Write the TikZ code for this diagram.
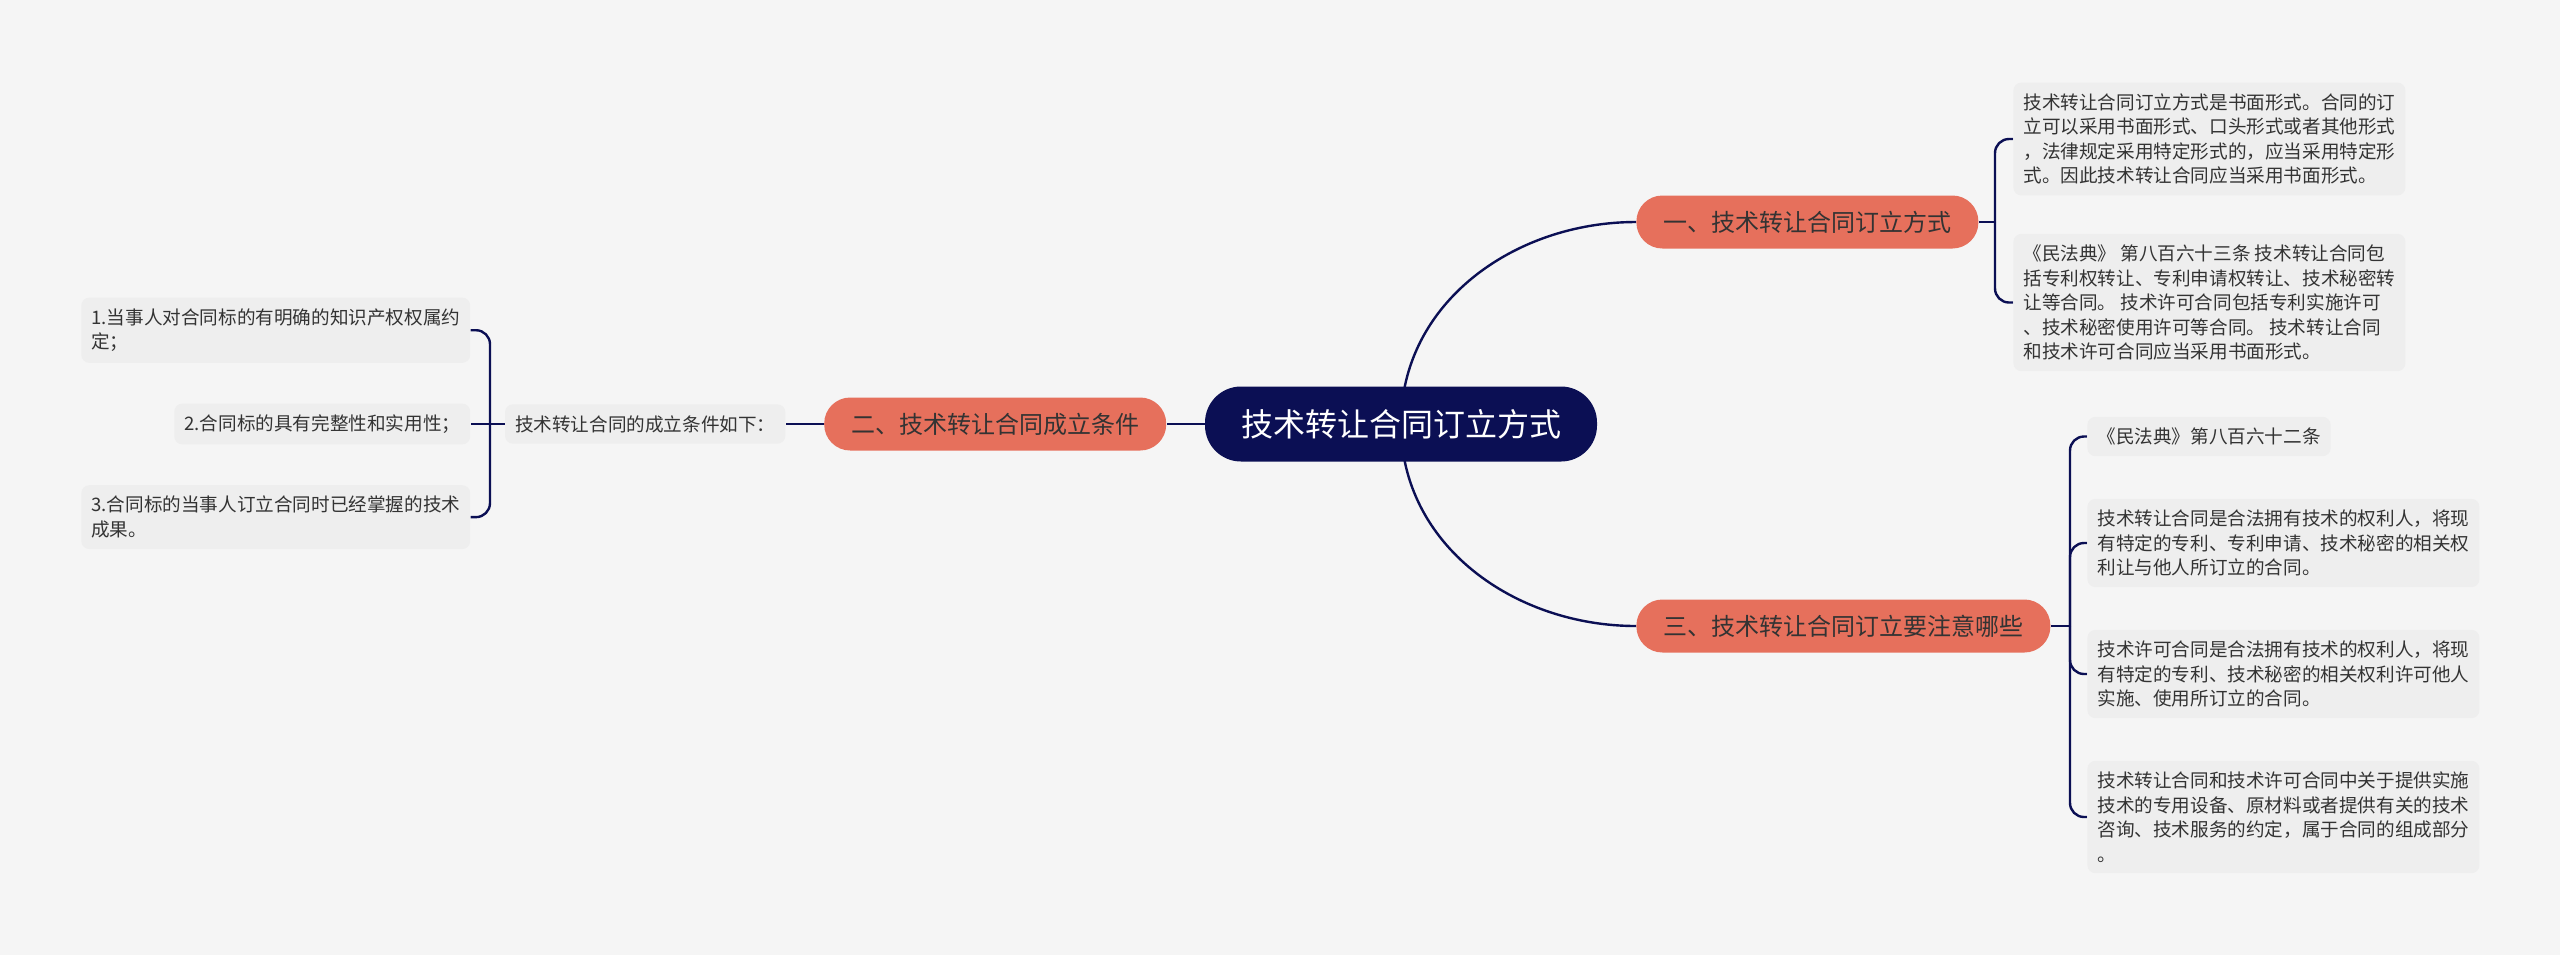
\documentclass[tikz,border=0pt]{standalone}
\usepackage{fontspec}
\setmainfont{Noto Sans CJK SC}
\usetikzlibrary{positioning,backgrounds}
\definecolor{bgcol}{RGB}{245,245,245}
\definecolor{rootblue}{RGB}{11,15,84}
\definecolor{salmon}{RGB}{230,112,92}
\definecolor{leafgray}{RGB}{238,238,238}
\definecolor{txtgray}{RGB}{51,51,51}

\begin{document}
\begin{tikzpicture}[
    x=1pt,y=1pt,
    node distance=19pt,
    rootbox/.style={fill=rootblue,text=white,rounded corners=18pt,minimum height=37.5pt,inner xsep=18pt,font=\fontsize{16pt}{19pt}\selectfont},
    branch/.style={fill=salmon,text=txtgray,rounded corners=13pt,minimum height=26.5pt,inner xsep=13.5pt,font=\fontsize{12pt}{14pt}\selectfont},
    leaf/.style={fill=leafgray,text=txtgray,rounded corners=4pt,inner xsep=5pt,inner ysep=5.5pt,align=left,font=\fontsize{9.3pt}{12.25pt}\selectfont},
    conn/.style={draw=rootblue,line width=1.2pt},
    bracket/.style={conn,rounded corners=7pt}
]
\useasboundingbox (0,0) rectangle (1280,-477.5);
% centre and main branches
\node[rootbox] (root) at (700.5,-212) {技术转让合同订立方式};
\node[branch,anchor=west] (b1) at (818,-111) {一、技术转让合同订立方式};
\node[branch,left=of root] (b2) {二、技术转让合同成立条件};
\node[branch,anchor=west] (b3) at (818,-313) {三、技术转让合同订立要注意哪些};
% branch one
\node[leaf,anchor=west] (la) at (1006.5,-69.5) {技术转让合同订立方式是书面形式。合同的订\\立可以采用书面形式、口头形式或者其他形式\\，法律规定采用特定形式的，应当采用特定形\\式。因此技术转让合同应当采用书面形式。};
\node[leaf,anchor=west] (lb) at (1006.5,-151.25) {《民法典》 第八百六十三条 技术转让合同包\\括专利权转让、专利申请权转让、技术秘密转\\让等合同。 技术许可合同包括专利实施许可\\、技术秘密使用许可等合同。 技术转让合同\\和技术许可合同应当采用书面形式。};
% branch two
\node[leaf,left=of b2] (cond) {技术转让合同的成立条件如下：};
\node[leaf,left=17pt of cond] (l2) {2.合同标的具有完整性和实用性；};
\node[leaf,above=20pt of l2.north east,anchor=south east] (l1) {1.当事人对合同标的有明确的知识产权权属约\\定；};
\node[leaf,below=20pt of l2.south east,anchor=north east] (l3) {3.合同标的当事人订立合同时已经掌握的技术\\成果。};
% branch three
\node[leaf,anchor=west] (lc) at (1043.5,-218.25) {《民法典》第八百六十二条};
\node[leaf,anchor=west] (ld) at (1043.5,-271.5) {技术转让合同是合法拥有技术的权利人，将现\\有特定的专利、专利申请、技术秘密的相关权\\利让与他人所订立的合同。};
\node[leaf,anchor=west] (le) at (1043.5,-337) {技术许可合同是合法拥有技术的权利人，将现\\有特定的专利、技术秘密的相关权利许可他人\\实施、使用所订立的合同。};
\node[leaf,anchor=west] (lf) at (1043.5,-408.5) {技术转让合同和技术许可合同中关于提供实施\\技术的专用设备、原材料或者提供有关的技术\\咨询、技术服务的约定，属于合同的组成部分\\。};
\coordinate (j1) at (997.5,-111);
\coordinate (j2) at (245,-212);
\coordinate (j3) at (1035,-313);
\begin{scope}[on background layer]
\fill[bgcol] (0,0) rectangle (1280,-477.5);
\draw[conn] (root.center) to[out=90,in=180] (b1.west);
\draw[conn] (root.center) to[out=-90,in=180] (b3.west);
\draw[conn] (root) -- (b2);
\draw[conn] (b2) -- (cond);
\draw[conn] (cond.west) -- (j2) -- (l2.east);
\draw[bracket] (j2) |- (l1.east);
\draw[bracket] (j2) |- (l3.east);
\draw[conn] (b1.east) -- (j1);
\foreach \n in {la,lb}
    \draw[bracket] (j1) |- (\n.west);
\draw[conn] (b3.east) -- (j3);
\foreach \n in {lc,ld,le,lf}
    \draw[bracket] (j3) |- (\n.west);
\end{scope}
\end{tikzpicture}
\end{document}
